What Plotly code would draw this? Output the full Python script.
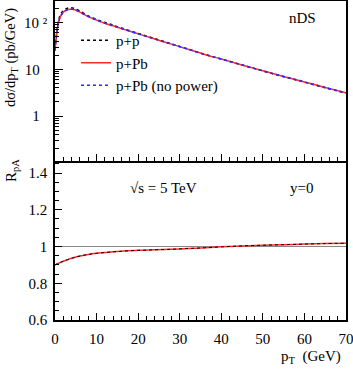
import plotly.graph_objects as go

pt = [0, 0.4, 0.8, 1.2, 1.6, 2.0, 2.5, 3.0, 3.6, 4.2, 4.8, 6, 8, 10, 12, 14, 16,
      20, 24, 28, 32, 36, 40, 45, 50, 55, 60, 65, 70]
xs_pp = [27.8, 60.8, 107.9, 140.4, 163.8, 180.4, 194.8, 203.7, 207.9, 206.0, 199.8,
         177.2, 140.0, 117.3, 100.3, 88.1, 76.5, 58.7, 45.4, 35.1, 27.2, 20.9, 16.6,
         12.4, 9.23, 6.94, 5.30, 4.02, 3.08]
xs_ppb = [25, 55, 98, 128, 150, 166, 180, 189, 194, 193, 188, 168, 134, 113, 97, 85.5,
          74.5, 57.5, 44.6, 34.6, 26.9, 20.8, 16.6, 12.4, 9.29, 7.01, 5.37, 4.08, 3.14]
xs_ppb_nopow = [25, 55, 98, 128, 150, 166, 180, 189, 194, 193, 188, 168, 134, 113, 97,
                85.5, 74.5, 57.5, 44.6, 34.6, 26.9, 20.8, 16.6, 12.4, 9.29, 7.01, 5.37,
                4.08, 3.14]
r_pa = [0.900, 0.904, 0.908, 0.912, 0.916, 0.920, 0.924, 0.928, 0.933, 0.937, 0.941,
        0.948, 0.957, 0.963, 0.967, 0.971, 0.974, 0.979, 0.982, 0.985, 0.989, 0.993,
        0.998, 1.003, 1.007, 1.010, 1.013, 1.016, 1.018]
r_pa_nopow = [0.900, 0.904, 0.908, 0.912, 0.916, 0.920, 0.924, 0.928, 0.933, 0.937,
              0.941, 0.948, 0.957, 0.963, 0.967, 0.971, 0.974, 0.979, 0.982, 0.985,
              0.989, 0.993, 0.998, 1.003, 1.007, 1.010, 1.013, 1.016, 1.018]

x_major = [0, 10, 20, 30, 40, 50, 60, 70]
x_minor = [2, 4, 6, 8, 12, 14, 16, 18, 22, 24, 26, 28, 32, 34, 36, 38, 42, 44, 46, 48,
           52, 54, 56, 58, 62, 64, 66, 68]
r_major = [0.6, 0.8, 1, 1.2, 1.4]
r_major_text = ["0.6", "0.8", "1", "1.2", "1.4"]
r_minor = [0.65, 0.7, 0.75, 0.85, 0.9, 0.95, 1.05, 1.1, 1.15, 1.25, 1.3, 1.35, 1.45]
log_major = [1, 10, 100]
log_major_text = ["1\u00a0\u00a0", "10\u00a0\u00a0", "10\u00a0\u00b2"]
log_minor = [0.2, 0.3, 0.4, 0.5, 0.6, 0.7, 0.8, 0.9,
             2, 3, 4, 5, 6, 7, 8, 9,
             20, 30, 40, 50, 60, 70, 80, 90, 200]

FONT = "Liberation Serif"
RED = "#ff2a2a"
BLUE = "#2a2aff"

fig = go.Figure()
fig.add_trace(go.Scatter(x=pt, y=xs_pp, xaxis="x2", yaxis="y2", mode="lines",
                         name="p+p", line=dict(color="black", width=1.5, dash="3px,3px", shape="spline")))
fig.add_trace(go.Scatter(x=pt, y=xs_ppb, xaxis="x2", yaxis="y2", mode="lines",
                         name="p+Pb", line=dict(color=RED, width=1.5, shape="spline")))
fig.add_trace(go.Scatter(x=pt, y=xs_ppb_nopow, xaxis="x2", yaxis="y2", mode="lines",
                         name="p+Pb (no power)", line=dict(color=BLUE, width=1.5, dash="dot", shape="spline")))
fig.add_trace(go.Scatter(x=pt, y=r_pa, xaxis="x", yaxis="y", mode="lines", showlegend=False,
                         line=dict(color=RED, width=1.5, shape="spline")))
fig.add_trace(go.Scatter(x=pt, y=r_pa_nopow, xaxis="x", yaxis="y", mode="lines", showlegend=False,
                         line=dict(color="black", width=1, dash="dot", shape="spline")))

fig.add_shape(type="line", xref="x", yref="y", x0=0, x1=70, y0=1, y1=1,
              line=dict(color="#888888", width=1), layer="below")

axis_common = dict(showline=True, linewidth=1.5, linecolor="black",
                   showgrid=False, zeroline=False, ticks="inside", tickcolor="black",
                   tickwidth=1, automargin=False, ticklabeloverflow="allow",
                   tickmode="array",
                   tickfont=dict(family=FONT, size=15, color="black"))

def minor(vals):
    return dict(ticks="inside", tickmode="array", tickvals=vals, ticklen=4,
                tickcolor="black", tickwidth=1, showgrid=False)

fig.update_layout(
    width=353, height=369,
    margin=dict(l=55, r=7, t=1, b=49),
    plot_bgcolor="white", paper_bgcolor="white",
    font=dict(family=FONT, size=15, color="black"),
    xaxis=dict(anchor="y", range=[0, 70], tickvals=x_major, ticklen=7, mirror=False,
               ticklabelstandoff=4, minor=minor(x_minor), **axis_common),
    xaxis2=dict(anchor="y2", range=[0, 70], tickvals=x_major, ticklen=7, mirror=True,
                showticklabels=False, minor=minor(x_minor), **axis_common),
    yaxis=dict(domain=[0, 0.5], range=[0.6, 1.468], tickvals=r_major, mirror=True,
               ticktext=r_major_text, ticklen=7, ticklabelstandoff=3,
               minor=minor(r_minor), **axis_common),
    yaxis2=dict(domain=[0.5, 1], type="log", range=[-0.953, 2.463], mirror=True,
                tickvals=log_major, ticktext=log_major_text, ticklen=8,
                ticklabelstandoff=3, minor=minor(log_minor), **axis_common),
    legend=dict(x=(76 - 55) / 291, y=(320 - 24) / 319, xanchor="left", yanchor="top",
                bgcolor="rgba(0,0,0,0)", font=dict(family=FONT, size=15),
                itemwidth=30),
    showlegend=True,
)

ann = [
    dict(text="dσ/dp<sub>T</sub> (pb/GeV)", x=(11 - 55) / 291, y=(320 - 58) / 319,
         textangle=-90, size=14.5),
    dict(text="R<sub>pA</sub>", x=(12 - 55) / 291, y=(320 - 171) / 319, textangle=-90, size=15),
    dict(text="p<sub>T</sub>  (GeV)", x=(311 - 55) / 291, y=(320 - 357) / 319, size=15),
    dict(text="nDS", x=(302 - 55) / 291, y=(320 - 18) / 319, size=15),
    dict(text="√s = 5 TeV", x=(163 - 55) / 291, y=(320 - 188) / 319, size=15),
    dict(text="y=0", x=(301 - 55) / 291, y=(320 - 188) / 319, size=15),
]
for a in ann:
    size = a.pop("size")
    fig.add_annotation(xref="paper", yref="paper", showarrow=False,
                       xanchor="center", yanchor="middle",
                       font=dict(family=FONT, size=size, color="black"), **a)

fig.write_html("out.html", config={"displayModeBar": False},
               post_script="document.body.style.margin='0';document.body.style.padding='0';"
                           "document.body.style.overflow='hidden';")
